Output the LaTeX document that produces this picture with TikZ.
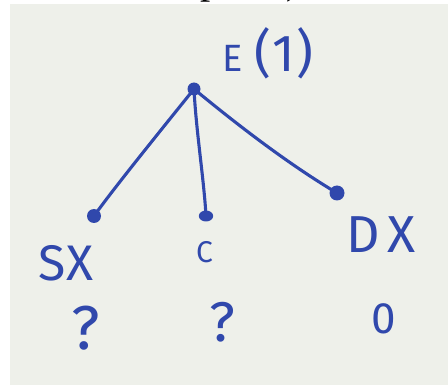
\documentclass[tikz,border=0pt]{standalone}
\usepackage{fontspec}
\newfontfamily\hand{Fira Sans}
\setmainfont{Liberation Serif}
\definecolor{ink}{RGB}{48,72,172}
\definecolor{paper}{RGB}{238,240,234}
\tikzset{
  dotnode/.style={circle,fill=ink,draw=none,inner sep=0pt,minimum size=#1},
  edge/.style={draw=ink,line width=3.1pt,line cap=round},
  lbl/.style={text=ink,inner sep=0pt,font=\hand}
}
\begin{document}
\begin{tikzpicture}[x=1pt,y=-1pt]
\useasboundingbox (0,0) rectangle (448,385);
\fill[white] (0,0) rectangle (448,385);
\fill[paper] (10,4) rectangle (448,385);
% cut-off printed text at the top
\node[anchor=base west,inner sep=0pt,font=\fontsize{41pt}{41pt}\selectfont] (top) at (159,-6) {risposta)};
% tree nodes
\node[dotnode=13pt] (root) at (194,89) {};
\node[dotnode=14pt] (sx) at (94,216) {};
\node[circle,fill=ink,inner sep=0pt,minimum width=11pt,minimum height=11pt,xscale=1.3] (c) at (206,216) {};
\node[dotnode=15pt] (dx) at (337,193) {};
% edges
\draw[edge] (root.center) .. controls (161,130) and (114,188) .. (sx.center);
\draw[edge] (root.center) .. controls (196,130) and (204,180) .. (c.center);
\draw[edge] (root.center) .. controls (240,127) and (290,165) .. (dx.center);
% labels
\node[lbl,anchor=base west] (rootlbl) at (222,72) {{\fontsize{38pt}{38pt}\selectfont E}\hspace{12pt}{\fontsize{52pt}{52pt}\selectfont(\hspace{1pt}1\hspace{2pt})}};
\node[lbl,anchor=base west] (sxlbl) at (38,281) {\fontsize{50pt}{50pt}\selectfont S\hspace{1pt}X};
\node[lbl,anchor=base west] (clbl) at (196,263) {\fontsize{30pt}{30pt}\selectfont C};
\node[lbl,anchor=base west] (dxlbl) at (346,253) {\fontsize{52pt}{52pt}\selectfont D\hspace{8pt}X};
\node[lbl,anchor=base] (sxval) at (86,350) {\fontsize{62pt}{62pt}\selectfont ?};
\node[lbl,anchor=base] (cval) at (222,342) {\fontsize{56pt}{56pt}\selectfont ?};
\node[lbl,anchor=base] (dxval) at (384,334) {\fontsize{44pt}{44pt}\selectfont 0};
\end{tikzpicture}
\end{document}
